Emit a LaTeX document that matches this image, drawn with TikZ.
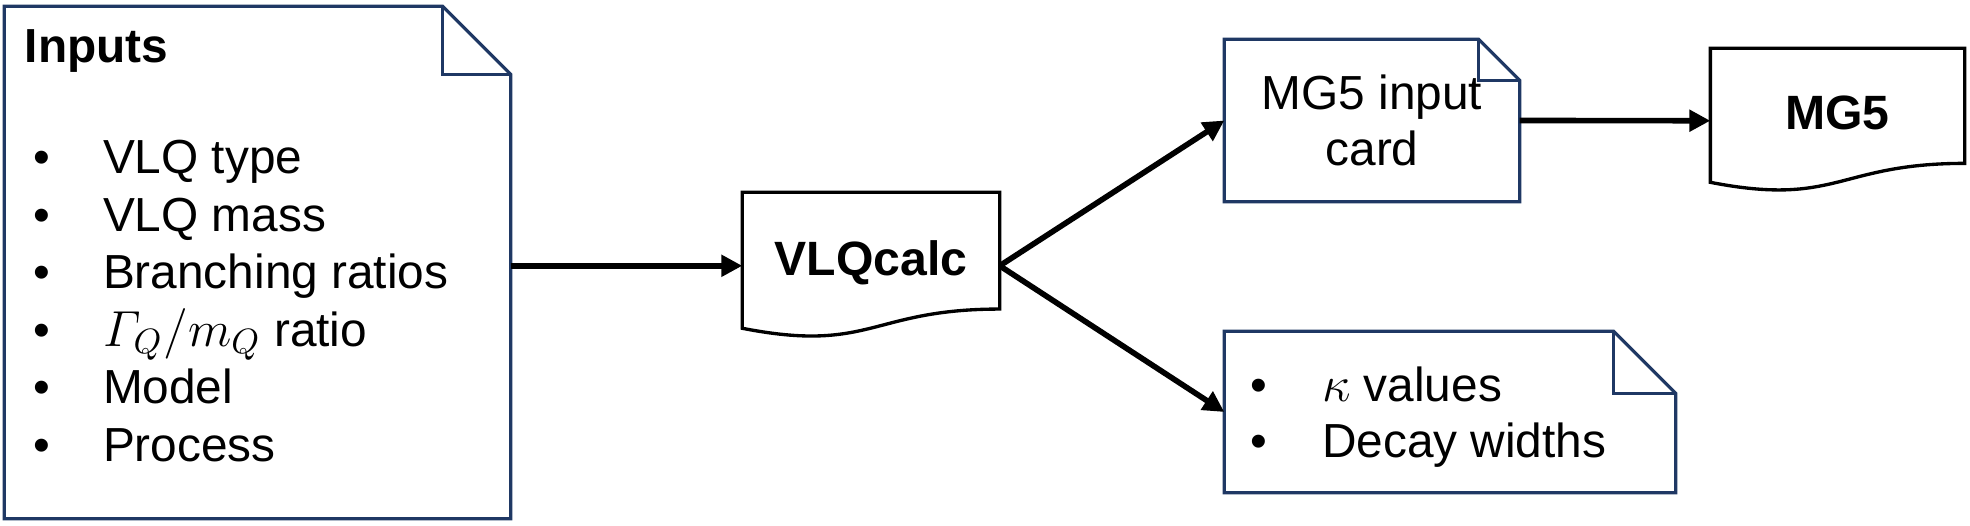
\documentclass[tikz,border=0pt]{standalone}
\usepackage{amsmath}
\usepackage{fontspec}
\setmainfont{Liberation Sans}
\usetikzlibrary{positioning,calc,arrows.meta}
\definecolor{notenavy}{HTML}{1F3864}
\tikzset{
  box/.style={rectangle,inner sep=0,align=center,font=\fontsize{13.6}{15.7}\selectfont},
  % folded notes get a navy outline, documents a black one with a wavy bottom
  noteline/.style={draw=notenavy,line width=0.9pt,line join=miter},
  docline/.style={draw=black,line width=0.95pt,line join=miter},
  doctext/.style={box,font=\fontsize{13.7}{16}\selectfont\bfseries,text depth=0.16cm},
  lab/.style={anchor=base west,inner sep=0,font=\fontsize{13.6}{15.7}\selectfont},
  dot/.style={anchor=base,inner sep=0,font=\fontsize{13.6}{15.7}\selectfont},
  arrow/.style={-{Triangle[length=0.21cm,width=0.21cm]},line width=1.6pt},
}
\begin{document}
\begin{tikzpicture}
  \useasboundingbox (0,0) rectangle (19.70,5.26);
  % boxes
  \node[box,minimum width=5.05cm,minimum height=5.11cm] (inputs) at (2.575,2.635) {};
  \node[doctext,minimum width=2.56cm,minimum height=1.456cm] (calc) at (8.71,2.602) {VLQcalc};
  \node[box,minimum width=2.94cm,minimum height=1.61cm] (card) at (13.72,4.055) {MG5 input\\card};
  \node[doctext,minimum width=2.53cm,minimum height=1.435cm] (mg) at (18.375,4.0525) {MG5};
  \node[box,minimum width=4.50cm,minimum height=1.60cm] (kappa) at (14.50,1.14) {};
  \foreach \n/\f in {inputs/0.68,card/0.41,kappa/0.62} {
    \draw[noteline] (\n.south west) -- (\n.north west) -- ($(\n.north east)+(-\f,0)$)
      -- ($(\n.north east)+(0,-\f)$) -- (\n.south east) -- cycle;
    \draw[noteline] ($(\n.north east)+(-\f,0)$) -- ++(0,-\f) -- ($(\n.north east)+(0,-\f)$);
  }
  \foreach \n/\h in {calc/1.456,mg/1.435} {
    \draw[docline] ($(\n.north west)+(0,-0.934*\h)$) -- (\n.north west) -- (\n.north east)
      -- ($(\n.north east)+(0,-0.802*\h)$)
      .. controls ($(\n.north)+(0,-0.802*\h)$) and ($(\n.north)+(0,-1.107*\h)$)
      .. ($(\n.north west)+(0,-0.934*\h)$) -- cycle;
  }
  % texts
  \node[lab,font=\fontsize{13.6}{15.7}\selectfont\bfseries] (title) at ($(inputs.north west)+(0.20,-0.56)$) {Inputs};
  \foreach \t [count=\i] in {VLQ type,VLQ mass,Branching ratios,$\varGamma_Q/m_Q$ ratio,Model,Process} {
    \node[dot] (dot\i) at ($(inputs.north west)+(0.38,-1.10-0.575*\i)$) {\textbullet};
    \node[lab] (item\i) at ($(inputs.north west)+(0.98,-1.10-0.575*\i)$) {\t};
  }
  \foreach \t [count=\i] in {$\kappa$ values,Decay widths} {
    \node[dot] (kdot\i) at ($(kappa.north west)+(0.35,-0.14-0.56*\i)$) {\textbullet};
    \node[lab] (kitem\i) at ($(kappa.north west)+(0.97,-0.14-0.56*\i)$) {\t};
  }
  % arrows
  \draw[arrow] (inputs.east |- calc.west) -- (calc.west);
  \draw[arrow] (calc.east) -- (card.west);
  \draw[arrow] (calc.east) -- (kappa.west);
  \draw[arrow] (card.east) -- (mg.west);
\end{tikzpicture}
\end{document}
